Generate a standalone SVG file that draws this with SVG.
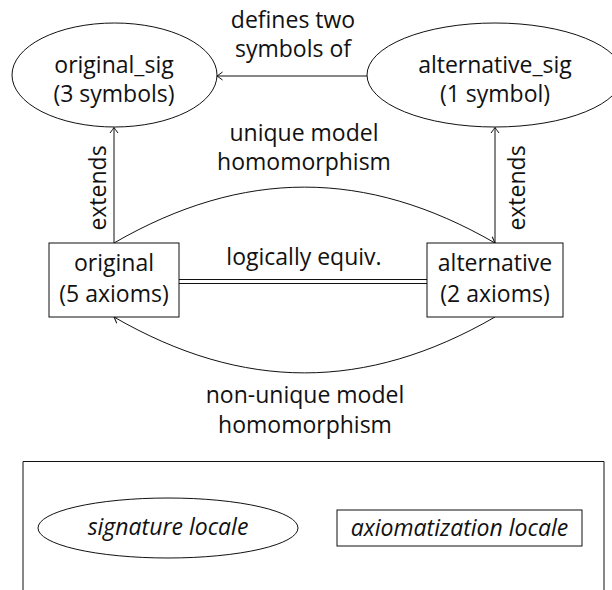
<svg xmlns="http://www.w3.org/2000/svg" width="612" height="590" viewBox="0 0 612 590">
<defs>
<style>
text{font-family:"Open Sans","Noto Sans","DejaVu Sans",sans-serif;font-size:23px;fill:#111;text-anchor:middle}
.it{font-style:italic}
.shape{fill:#fff;stroke:#111;stroke-width:1}
.edge{fill:none;stroke:#111;stroke-width:1}
</style>
<marker id="arr" viewBox="-7 -5 8 10" markerWidth="8" markerHeight="10" refX="0" refY="0" orient="auto" markerUnits="userSpaceOnUse">
<path d="M-5.5,-4 Q-1.5,-1 0,0 Q-1.5,1 -5.5,4" fill="none" stroke="#111" stroke-width="1"/>
</marker>
</defs>
<rect width="612" height="590" fill="#fff"/>
<g id="connectors">
<line class="edge" x1="368" y1="76" x2="217" y2="76" marker-end="url(#arr)"/>
<line class="edge" x1="114" y1="243" x2="114" y2="127.5" marker-end="url(#arr)"/>
<line class="edge" x1="495" y1="243" x2="495" y2="127.5" marker-end="url(#arr)"/>
<path class="edge" d="M114,243 C243,168.5 366,168.5 495,243" marker-end="url(#arr)"/>
<path class="edge" d="M495,317 C366,391.5 243,391.5 114,317" marker-end="url(#arr)"/>
<line class="edge" x1="179" y1="279.5" x2="427" y2="279.5"/>
<line class="edge" x1="179" y1="283.5" x2="427" y2="283.5"/>
<text x="293" y="28">defines two</text>
<text x="293" y="57">symbols of</text>
<text x="304" y="141">unique model</text>
<text x="304" y="170">homomorphism</text>
<text x="304" y="265">logically equiv.</text>
<text x="305" y="403">non-unique model</text>
<text x="305" y="433">homomorphism</text>
<text transform="translate(105.5,188) rotate(-90)">extends</text>
<text transform="translate(525,188) rotate(-90)">extends</text>
</g>
<g id="original_sig">
<ellipse class="shape" cx="114.5" cy="75" rx="102.5" ry="52"/>
<text x="114" y="73">original_sig</text>
<text x="114" y="102">(3 symbols)</text>
</g>
<g id="alternative_sig">
<ellipse class="shape" cx="495" cy="75" rx="128" ry="52"/>
<text x="495" y="73">alternative_sig</text>
<text x="495" y="102">(1 symbol)</text>
</g>
<g id="original">
<rect class="shape" x="49" y="243" width="130" height="74"/>
<text x="114" y="271">original</text>
<text x="114" y="302">(5 axioms)</text>
</g>
<g id="alternative">
<rect class="shape" x="427" y="243" width="136" height="74"/>
<text x="495" y="271">alternative</text>
<text x="495" y="302">(2 axioms)</text>
</g>
<g id="legend">
<path class="edge" d="M23,600 V461.5 H604 V600"/>
<g id="signature_locale">
<ellipse class="shape" cx="168" cy="528" rx="130" ry="30"/>
<text class="it" x="168" y="535">signature locale</text>
</g>
<g id="axiomatization_locale">
<rect class="shape" x="337" y="510" width="245" height="36"/>
<text class="it" x="459.5" y="536">axiomatization locale</text>
</g>
</g>
</svg>
